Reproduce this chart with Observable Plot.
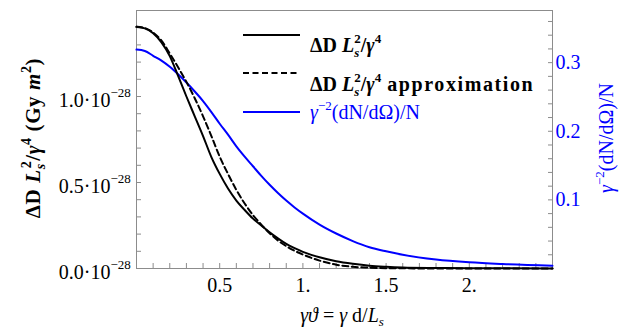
<!DOCTYPE html>
<html>
<head>
<meta charset="utf-8">
<script src="https://cdn.jsdelivr.net/npm/d3@7"></script>
<script src="https://cdn.jsdelivr.net/npm/@observablehq/plot@0.6"></script>
<style>
  html, body { margin: 0; padding: 0; background: #fff; }
  svg { display: block; }
</style>
</head>
<body>
<div id="chart"></div>
<script>
// γϑ values (x)
const theta = [0, 0.05, 0.1, 0.15, 0.2, 0.25, 0.3, 0.35, 0.4, 0.45, 0.5, 0.55, 0.6, 0.65, 0.7, 0.75, 0.8, 0.85, 0.9, 0.95, 1.0, 1.1, 1.2, 1.3, 1.4, 1.5, 1.6, 1.8, 2.0, 2.2, 2.5];
// ΔD Ls²/γ⁴ in units of 1e-28 Gy m²
const deltaD = [1.405, 1.396, 1.368, 1.315, 1.235, 1.12, 1.0, 0.885, 0.77, 0.648, 0.55, 0.465, 0.395, 0.34, 0.29, 0.25, 0.21, 0.175, 0.143, 0.118, 0.097, 0.065, 0.042, 0.027, 0.016, 0.010, 0.006, 0.003, 0.0015, 0.0008, 0.0003];
// approximation
const deltaDApprox = [1.405, 1.398, 1.372, 1.325, 1.25, 1.17, 1.085, 0.99, 0.885, 0.77, 0.65, 0.55, 0.457, 0.378, 0.31, 0.255, 0.205, 0.163, 0.13, 0.103, 0.081, 0.046, 0.022, 0.010, 0.005, 0.002, 0.001, 0.0003, 0.0001, 0, 0];
// γ^-2 (dN/dΩ)/N (right axis)
const dNdOmega = [0.319, 0.317, 0.310, 0.303, 0.294, 0.283, 0.271, 0.258, 0.244, 0.228, 0.211, 0.195, 0.178, 0.163, 0.149, 0.135, 0.122, 0.110, 0.099, 0.089, 0.080, 0.064, 0.051, 0.040, 0.031, 0.025, 0.020, 0.013, 0.009, 0.0065, 0.004];

const xTicks = [0.5, 1, 1.5, 2];
const xTickLabels = ["0.5", "1.", "1.5", "2."];
const yTicks = [0, 0.5, 1.0];
const yTickLabels = ["0.0·10", "0.5·10", "1.0·10"];
const yTickExp = "−28";
const rTicks = [0.1, 0.2, 0.3];
const rTickLabels = ["0.1", "0.2", "0.3"];

const xDomain = [0, 2.5];
const yDomain = [0, 1.5];
const rDomain = [0, 0.376];
const toLeft = v => (v - rDomain[0]) / (rDomain[1] - rDomain[0]) * (yDomain[1] - yDomain[0]) + yDomain[0];

const xMinor = d3.range(1, 25).map(i => i / 10);
const yMinor = d3.range(1, 15).map(i => i / 10);
const rMinor = d3.range(1, 19).map(i => i / 50);

const solid = theta.map((x, i) => ({x, y: deltaD[i]}));
const approx = theta.map((x, i) => ({x, y: deltaDApprox[i]}));
const blue = theta.map((x, i) => ({x, y: toLeft(dNdOmega[i])}));

const FONT = "'Liberation Serif', 'Times New Roman', serif";
const GRAY = "#8c8c8c";
const BLUE = "#0000ff";
const TICK = -5;

const plot = Plot.plot({
  width: 619,
  height: 328,
  marginLeft: 136,
  marginRight: 67,
  marginTop: 10,
  marginBottom: 60,
  style: {fontFamily: FONT, background: "#fff"},
  x: {domain: xDomain, axis: null},
  y: {domain: yDomain, axis: null},
  marks: [
    // inward frame ticks
    Plot.axisX({anchor: "bottom", ticks: xMinor, tickSize: TICK, tickFormat: () => "", stroke: GRAY, label: null}),
    Plot.axisY({anchor: "left", ticks: yMinor, tickSize: TICK, tickFormat: () => "", stroke: GRAY, label: null}),
    Plot.axisY({anchor: "right", ticks: rMinor.map(toLeft), tickSize: TICK, tickFormat: () => "", stroke: GRAY, label: null}),
    Plot.frame({stroke: GRAY}),
    // tick labels
    Plot.text(xTicks, {x: d => d, frameAnchor: "bottom", lineAnchor: "top", dy: 9, text: (d, i) => xTickLabels[i], fontSize: 20, fontFamily: FONT, fill: "#000"}),
    Plot.text(yTicks, {y: d => d, frameAnchor: "left", textAnchor: "end", dx: -26, dy: 4, text: (d, i) => yTickLabels[i], fontSize: 20, fontFamily: FONT, fill: "#000"}),
    Plot.text(yTicks, {y: d => d, frameAnchor: "left", textAnchor: "start", dx: -26, dy: -4, text: () => yTickExp, fontSize: 13, fontFamily: FONT, fill: "#000"}),
    Plot.text(rTicks, {y: d => toLeft(d), frameAnchor: "right", textAnchor: "start", dx: 3, text: (d, i) => rTickLabels[i], fontSize: 20, fontFamily: FONT, fill: BLUE}),
    // curves
    Plot.line(blue, {x: "x", y: "y", stroke: BLUE, strokeWidth: 2, curve: "monotone-x"}),
    Plot.line(approx, {x: "x", y: "y", stroke: "#000", strokeWidth: 2, strokeDasharray: "6,3.5", curve: "monotone-x"}),
    Plot.line(solid, {x: "x", y: "y", stroke: "#000", strokeWidth: 2, curve: "monotone-x"})
  ]
});

document.getElementById("chart").appendChild(plot);

const svg = d3.select(plot);

function addDeltaD(t, small) {
  t.append("tspan").text("ΔD ");
  t.append("tspan").attr("font-style", "italic").text("L");
  t.append("tspan").attr("font-style", "italic").attr("font-size", small).attr("dy", 5).text("s");
  t.append("tspan").attr("font-size", small).attr("dx", -5).attr("dy", -14).text("2");
  t.append("tspan").attr("dy", 9).text("/");
  t.append("tspan").attr("font-style", "italic").text("γ");
  t.append("tspan").attr("font-size", small).attr("dy", -9).text("4");
  return t;
}
function addDN(t, small) {
  t.append("tspan").attr("font-style", "italic").text("γ");
  t.append("tspan").attr("font-size", small).attr("dy", -9).text("−2");
  t.append("tspan").attr("dy", 9).text("(dN/dΩ)/N");
  return t;
}

// Legend
const lg = svg.append("g").attr("font-family", FONT).attr("text-anchor", "start");
const rows = [
  {y: 35, base: 52, dash: null, color: "#000"},
  {y: 73, base: 91, dash: "6,3.5", color: "#000"},
  {y: 112, base: 119, dash: null, color: BLUE}
];
rows.forEach(r => {
  lg.append("line").attr("x1", 243).attr("x2", 300).attr("y1", r.y).attr("y2", r.y)
    .attr("stroke", r.color).attr("stroke-width", 2).attr("stroke-dasharray", r.dash);
});
addDeltaD(lg.append("text").attr("text-anchor", "start").attr("x", 310).attr("y", rows[0].base).attr("font-size", 20).attr("font-weight", "bold"), 13);
const t2 = addDeltaD(lg.append("text").attr("text-anchor", "start").attr("x", 310).attr("y", rows[1].base).attr("font-size", 20).attr("font-weight", "bold"), 13);
t2.append("tspan").attr("dy", 9).attr("dx", 6).attr("letter-spacing", 1.6).text("approximation");
addDN(lg.append("text").attr("text-anchor", "start").attr("x", 310).attr("y", rows[2].base).attr("font-size", 20).attr("fill", BLUE), 13);

// Left axis label
const yl = svg.append("text").attr("font-family", FONT).attr("font-size", 21).attr("font-weight", "bold")
  .attr("text-anchor", "middle").attr("letter-spacing", 0.6).attr("transform", "translate(40,138) rotate(-90)");
addDeltaD(yl, 14);
yl.append("tspan").attr("dy", 9).text(" (Gy ");
yl.append("tspan").attr("font-style", "italic").text("m");
yl.append("tspan").attr("font-size", 14).attr("dy", -9).text("2");
yl.append("tspan").attr("dy", 9).text(")");

// Right axis label
const rl = svg.append("text").attr("font-family", FONT).attr("font-size", 20).attr("fill", BLUE)
  .attr("text-anchor", "middle").attr("transform", "translate(613,138) rotate(-90)");
addDN(rl, 13);

// X axis label
const xl = svg.append("text").attr("font-family", FONT).attr("font-size", 20).attr("fill", "#000")
  .attr("text-anchor", "middle").attr("x", 342).attr("y", 322);
xl.append("tspan").attr("font-style", "italic").text("γϑ");
xl.append("tspan").text(" = ");
xl.append("tspan").attr("font-style", "italic").text("γ");
xl.append("tspan").text(" d/");
xl.append("tspan").attr("font-style", "italic").text("L");
xl.append("tspan").attr("font-style", "italic").attr("font-size", 13).attr("dy", 4).text("s");
</script>
</body>
</html>
